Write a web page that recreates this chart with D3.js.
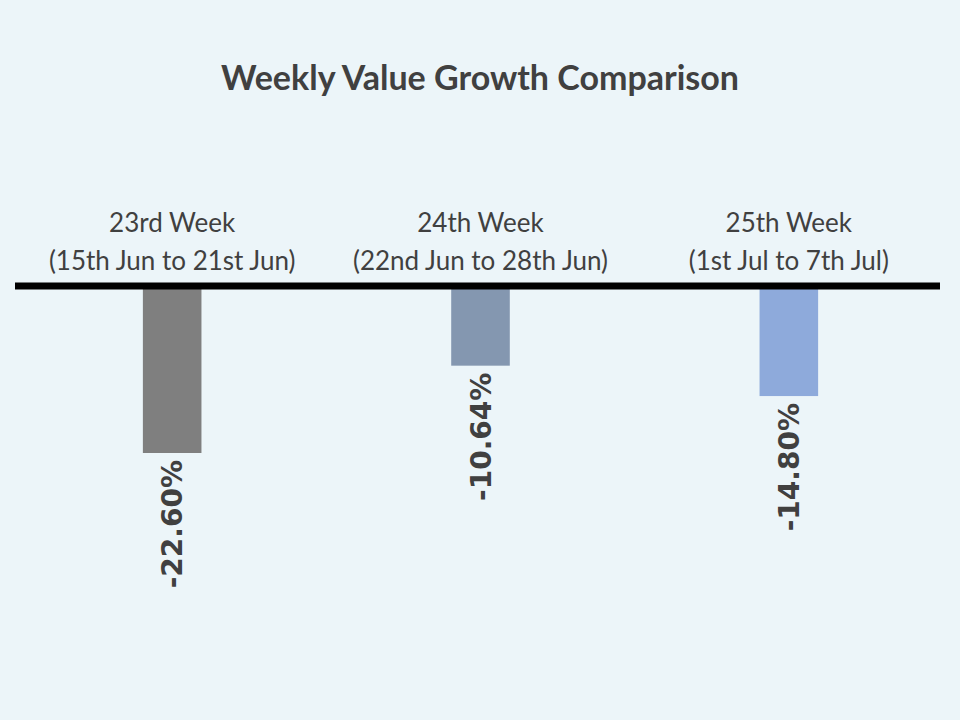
<!DOCTYPE html>
<html>
<head>
<meta charset="utf-8">
<script src="https://cdn.jsdelivr.net/npm/d3@7"></script>
<style>
  body { margin: 0; background: #ecf5f9; }
  svg { display: block; font-family: Lato, "Open Sans", sans-serif; }
</style>
</head>
<body>
<div id="chart"></div>
<script>
var weeks = ["23rd Week", "24th Week", "25th Week"];
var ranges = ["(15th Jun to 21st Jun)", "(22nd Jun to 28th Jun)", "(1st Jul to 7th Jul)"];
var growth = [-22.60, -10.64, -14.80];
var colors = ["#7f7f7f", "#8497b0", "#8eaadb"];

var width = 960, height = 720;

var svg = d3.select("#chart")
    .append("svg")
    .attr("width", width)
    .attr("height", height);

svg.append("rect")
    .attr("width", width)
    .attr("height", height)
    .attr("fill", "#ecf5f9");

var x = d3.scaleBand()
    .domain(weeks)
    .range([18, 943])
    .paddingInner(0.81)
    .paddingOuter(0.405);

var y = d3.scaleLinear()
    .domain([0, -22.6])
    .range([288, 453]);

// title
svg.append("text")
    .attr("x", 480)
    .attr("y", 90)
    .attr("text-anchor", "middle")
    .style("font-size", "34px")
    .style("font-weight", "bold")
    .attr("fill", "#404040")
    .text("Weekly Value Growth Comparison");

// bars
svg.selectAll(".bar")
    .data(growth)
    .enter().append("rect")
    .attr("class", "bar")
    .attr("x", function(d, i) { return x(weeks[i]); })
    .attr("y", y(0))
    .attr("width", x.bandwidth())
    .attr("height", function(d) { return y(d) - y(0); })
    .attr("fill", function(d, i) { return colors[i]; });

// zero line
svg.append("line")
    .attr("x1", 15)
    .attr("x2", 940)
    .attr("y1", y(0) - 2)
    .attr("y2", y(0) - 2)
    .attr("stroke", "#000")
    .attr("stroke-width", 7);

// category labels
var cat = svg.selectAll(".cat")
    .data(weeks)
    .enter().append("text")
    .attr("class", "cat")
    .attr("text-anchor", "middle")
    .attr("fill", "#404040")
    .style("font-size", "26px");

cat.append("tspan")
    .attr("x", function(d) { return x(d) + x.bandwidth() / 2; })
    .attr("y", 232)
    .text(function(d) { return d; });

cat.append("tspan")
    .attr("x", function(d) { return x(d) + x.bandwidth() / 2; })
    .attr("y", 270)
    .text(function(d, i) { return ranges[i]; });

// value labels
svg.selectAll(".val")
    .data(growth)
    .enter().append("text")
    .attr("class", "val")
    .attr("text-anchor", "end")
    .attr("fill", "#404040")
    .style("font-size", "28px")
    .style("font-weight", "bold")
    .style("font-family", "'DejaVu Sans', sans-serif")
    .attr("transform", function(d, i) {
        var cx = x(weeks[i]) + x.bandwidth() / 2 + 10;
        return "translate(" + cx + "," + (y(d) + 7) + ") rotate(-90)";
    })
    .text(function(d) { return d.toFixed(2) + "%"; });
</script>
</body>
</html>
